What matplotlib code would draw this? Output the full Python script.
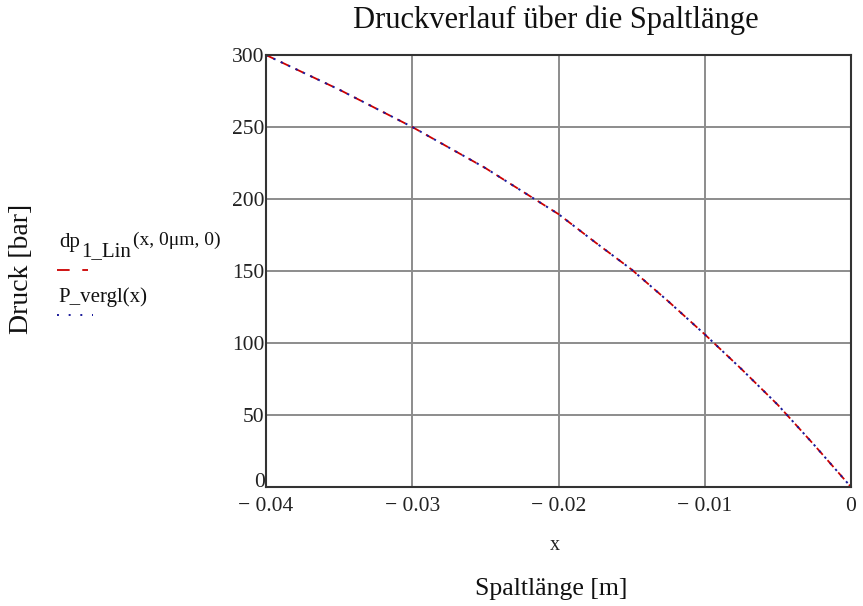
import matplotlib as mpl
mpl.use('Agg')
import numpy as np
import matplotlib.pyplot as plt
from matplotlib.lines import Line2D

plt.rcParams['font.family'] = ['Liberation Serif', 'DejaVu Serif']

# values
x_pos = [-0.04, -0.035, -0.03, -0.025, -0.02, -0.0175, -0.015,
         -0.0125, -0.01, -0.0075, -0.005, -0.0025, 0.0]
dp_lin = [300, 276, 250, 221.5, 189.5, 170, 151,
          129, 106, 82, 57, 29, 0]
p_vergl = [300, 276, 250, 221.5, 189.5, 170, 151,
           129, 106, 82, 57, 29, 0]

xticks = [-0.04, -0.03, -0.02, -0.01, 0.0]
xticklabels = ['\u2212 0.04', '\u2212 0.03', '\u2212 0.02', '\u2212 0.01', '0']
yticks = [0, 50, 100, 150, 200, 250, 300]

fig = plt.figure(figsize=(8.63, 6.06), dpi=100)
ax = fig.add_axes([266/863, 1-487/606, (851-266)/863, (487-55)/606])

ax.plot(x_pos, dp_lin, color='#cc0000', linestyle=(0, (5, 4)), linewidth=1.3)
ax.plot(x_pos, p_vergl, color='#1a1a9a', linestyle=(0, (1.2, 3)), linewidth=1.4)

ax.set_xlim(-0.04, 0.0)
ax.set_ylim(0, 300)
ax.set_xticks(xticks)
ax.set_xticklabels(xticklabels)
ax.set_yticks(yticks)
ax.grid(True, color='#8c8c8c', linewidth=1.4)
ax.tick_params(length=0, labelsize=15.5, colors='#222222')
ax.tick_params(axis='x', pad=7)
ax.tick_params(axis='y', pad=1)
for s in ax.spines.values():
    s.set_color('#333333')
    s.set_linewidth(1.5)
ax.set_axisbelow(True)
# the "0" of the y axis sits just above the corner
ax.get_yticklabels()[0].set_va('baseline')

fig.text(556/863, 1-20/606, 'Druckverlauf über die Spaltlänge', fontsize=22,
         ha='center', va='center', color='#111111')
fig.text(555/863, 1-546/606, 'x', fontsize=14.5, ha='center', va='center',
         color='#222222')
fig.text(551/863, 1-589/606, 'Spaltlänge [m]', fontsize=18.5, ha='center',
         va='center', color='#111111')
fig.text(22/863, 1-269/606, 'Druck [bar]', fontsize=20, rotation=90,
         ha='center', va='center', color='#111111')

# legend on the left, outside the axes
fig.text(59/863, 1-243/606, 'dp', fontsize=15, ha='left', va='center',
         color='#111111')
fig.text(81/863, 1-252/606, '1_Lin', fontsize=15, ha='left', va='center',
         color='#111111')
fig.text(133/863, 1-240/606, '(x, 0\u03bcm, 0)', fontsize=14, ha='left',
         va='center', color='#111111')
fig.text(58/863, 1-297/606, 'P_vergl(x)', fontsize=15, ha='left', va='center',
         color='#111111')
fig.add_artist(Line2D([57/863, 88/863], [1-270/606, 1-270/606], color='#cc0000',
                      linestyle=(0, (7, 7)), linewidth=1.3))
fig.add_artist(Line2D([57/863, 93/863], [1-315/606, 1-315/606], color='#1a1a9a',
                      linestyle=(0, (1, 5)), linewidth=1.4))

plt.savefig('out.png', dpi=100, facecolor='w')
